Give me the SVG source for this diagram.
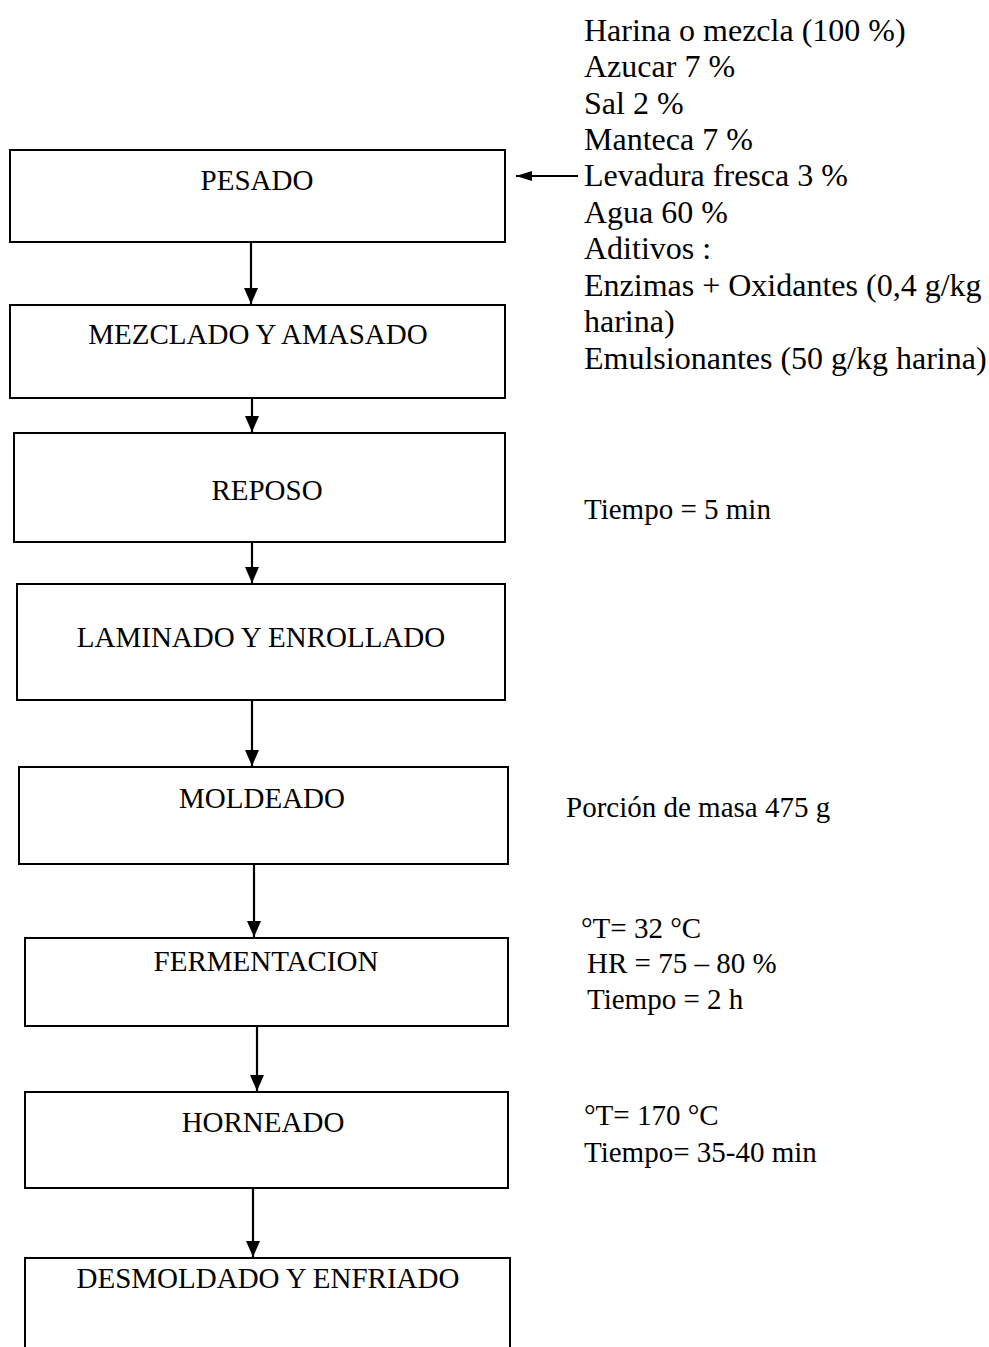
<svg xmlns="http://www.w3.org/2000/svg" width="989" height="1347" viewBox="0 0 989 1347">
<defs>
<style>
.box{fill:#fff;stroke:#000;stroke-width:2}
.bt{font-family:"Liberation Serif","Times New Roman",serif;font-size:29px;fill:#000;text-anchor:middle}
.st{font-family:"Liberation Serif","Times New Roman",serif;font-size:29px;fill:#000}
.it{font-family:"Liberation Serif","Times New Roman",serif;font-size:32px;fill:#000}
.cn{stroke:#000;stroke-width:2.2;fill:none;marker-end:url(#ah)}
.cnh{stroke:#000;stroke-width:2.2;fill:none;marker-end:url(#ahs)}
</style>
<marker id="ah" viewBox="0 0 16 14" refX="16" refY="7" markerWidth="16" markerHeight="14" markerUnits="userSpaceOnUse" orient="auto">
<path d="M0,0 L16,7 L0,14 Z" fill="#000"/>
</marker>
<marker id="ahs" viewBox="0 0 16 10" refX="16" refY="5" markerWidth="16" markerHeight="10" markerUnits="userSpaceOnUse" orient="auto">
<path d="M0,0 L16,5 L0,10 Z" fill="#000"/>
</marker>
</defs>
<rect width="989" height="1347" fill="#fff"/>
<g id="connectors">
<line class="cnh" x1="578" y1="176" x2="516" y2="176"/>
<line class="cn" x1="251" y1="242" x2="251" y2="304"/>
<line class="cn" x1="252" y1="398" x2="252" y2="432"/>
<line class="cn" x1="252" y1="542" x2="252" y2="583"/>
<line class="cn" x1="252" y1="700" x2="252" y2="766"/>
<line class="cn" x1="254" y1="864" x2="254" y2="937"/>
<line class="cn" x1="257" y1="1026" x2="257" y2="1091"/>
<line class="cn" x1="253" y1="1188" x2="253" y2="1257"/>
</g>
<g id="pesado"><rect class="box" x="10" y="150" width="495" height="92"/><text class="bt" x="257" y="190">PESADO</text></g>
<g id="mezclado"><rect class="box" x="10" y="305" width="495" height="93"/><text class="bt" x="258" y="344">MEZCLADO Y AMASADO</text></g>
<g id="reposo"><rect class="box" x="14" y="433" width="491" height="109"/><text class="bt" x="267" y="500">REPOSO</text></g>
<g id="laminado"><rect class="box" x="17" y="584" width="488" height="116"/><text class="bt" x="261" y="647">LAMINADO Y ENROLLADO</text></g>
<g id="moldeado"><rect class="box" x="19" y="767" width="489" height="97"/><text class="bt" x="262" y="808">MOLDEADO</text></g>
<g id="fermentacion"><rect class="box" x="25" y="938" width="483" height="88"/><text class="bt" x="266" y="971">FERMENTACION</text></g>
<g id="horneado"><rect class="box" x="25" y="1092" width="483" height="96"/><text class="bt" x="263" y="1132">HORNEADO</text></g>
<g id="desmoldado"><rect class="box" x="25" y="1258" width="485" height="100"/><text class="bt" x="268" y="1288">DESMOLDADO Y ENFRIADO</text></g>
<g id="ingredientes">
<text class="it" x="584" y="41">Harina o mezcla (100 %)</text>
<text class="it" x="584" y="77">Azucar 7 %</text>
<text class="it" x="584" y="114">Sal 2 %</text>
<text class="it" x="584" y="150">Manteca 7 %</text>
<text class="it" x="584" y="186">Levadura fresca 3 %</text>
<text class="it" x="584" y="223">Agua 60 %</text>
<text class="it" x="584" y="259">Aditivos :</text>
<text class="it" x="584" y="296">Enzimas + Oxidantes (0,4 g/kg</text>
<text class="it" x="584" y="332">harina)</text>
<text class="it" x="584" y="369">Emulsionantes (50 g/kg harina)</text>
</g>
<g id="nota-reposo"><text class="st" x="584" y="519">Tiempo = 5 min</text></g>
<g id="nota-moldeado"><text class="st" x="566" y="817">Porción de masa 475 g</text></g>
<g id="nota-fermentacion">
<text class="st" x="581" y="938">°T= 32 °C</text>
<text class="st" x="587" y="973">HR = 75 – 80 %</text>
<text class="st" x="587" y="1009">Tiempo = 2 h</text>
</g>
<g id="nota-horneado">
<text class="st" x="584" y="1125">°T= 170 °C</text>
<text class="st" x="584" y="1162">Tiempo= 35-40 min</text>
</g>
</svg>
